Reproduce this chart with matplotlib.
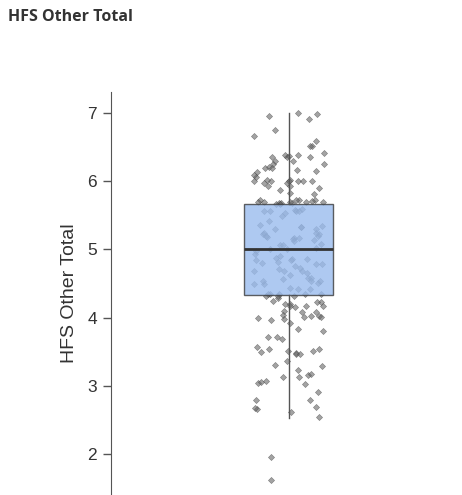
import numpy as np
import matplotlib
matplotlib.use("Agg")
import matplotlib.pyplot as plt

# box summary
q1 = 4.33
median = 5.0
q3 = 5.67
whisker_low = 2.53
whisker_high = 7.0

# individual scores (jittered dots), read top to bottom
scores = [
    7.0, 6.98, 6.91, 6.96, 6.75, 6.59, 6.66, 6.52, 6.52, 6.35, 6.30, 6.25,
    6.35, 6.38, 6.37, 6.30, 6.41, 6.35, 6.38, 6.25, 6.21, 6.19,
    6.16, 6.13, 6.06, 6.02, 5.97, 5.90, 6.0, 5.93, 6.0, 6.0, 6.09, 6.02,
    6.0, 5.93, 5.87, 6.0, 6.0, 5.97, 6.19, 6.15, 5.83, 5.81,
    5.72, 5.70, 5.72, 5.68, 5.70, 5.73, 5.68, 5.72, 5.70, 5.68, 5.67, 5.69,
    5.71, 5.66, 5.70,
    5.58, 5.56, 5.56, 5.59, 5.56, 5.53, 5.56, 5.49, 5.36, 5.34, 5.42, 5.33,
    5.30, 5.30, 5.33, 5.23, 5.14, 5.08, 5.20, 5.17, 5.24, 5.18, 5.23, 5.15,
    5.20, 5.24, 5.17, 5.12, 5.06, 5.06, 5.0, 4.98, 5.02, 5.0,
    4.86, 4.87, 4.86, 4.93, 4.90, 4.85, 4.80, 4.79, 4.73, 4.68, 4.84, 4.79,
    4.82, 4.76, 4.68, 4.71, 4.63, 4.58, 4.51, 4.50, 4.54, 4.68, 4.66, 4.58,
    4.54, 4.57, 4.54, 4.50, 4.42, 4.42, 4.43,
    4.34, 4.34, 4.34, 4.34, 4.32, 4.29, 4.35, 4.32, 4.32, 4.24, 4.23, 4.20,
    4.17, 4.20, 4.17, 4.23, 4.17, 4.16, 4.10, 4.08, 4.04, 4.02, 3.99, 3.98,
    3.92, 4.01, 3.96, 4.02, 4.08, 4.01, 3.83, 3.80, 3.72, 3.69, 3.72, 3.57,
    3.54, 3.54, 3.51, 3.50, 3.48, 3.51, 3.47, 3.47,
    3.30, 3.29, 3.36, 3.23, 3.13, 3.07, 3.04, 3.13, 3.16, 3.17, 3.03, 3.06,
    2.91, 2.79, 2.69, 2.62, 2.55, 2.66, 2.79, 2.67,
    1.95, 1.62,
]

label = "HFS Other Total"
text_color = "#333333"

fig = plt.figure(figsize=(4.62, 4.95), dpi=100)
ax = fig.add_axes([111 / 462, 0.0, 351 / 462, (495 - 92) / 495])

# horizontal jitter only (display offset, seeded so the file is repeatable)
rng = np.random.default_rng(7)
xs = rng.uniform(-0.2, 0.2, len(scores))
ax.scatter(xs, scores, marker="D", s=10, color="#666666", alpha=0.6,
           linewidths=0.4, edgecolors="#444444", zorder=1)

stats = [dict(q1=q1, med=median, q3=q3, whislo=whisker_low, whishi=whisker_high, fliers=[])]
ax.bxp(stats, positions=[0], widths=0.5, patch_artist=True, showcaps=False,
       boxprops=dict(facecolor="#9abcee", alpha=0.8, edgecolor="#3a3a3a", linewidth=1.0),
       medianprops=dict(color="#333333", linewidth=2.0),
       whiskerprops=dict(color="#555555", linewidth=1.0),
       zorder=2)

ax.set_xlim(-1.0, 0.972)
ax.set_ylim(1.399, 7.308)
ax.set_yticks([2, 3, 4, 5, 6, 7])
ax.set_xticks([])

for side in ["top", "right", "bottom"]:
    ax.spines[side].set_visible(False)
ax.spines["left"].set_color("#555555")
ax.tick_params(axis="y", length=6, width=1, color="#555555", labelcolor=text_color,
               labelsize=12.5, pad=4)
for t in ax.get_yticklabels():
    t.set_family("Liberation Sans")

ax.set_ylabel(label, family="Liberation Sans", fontsize=14, color=text_color, labelpad=7)

fig.text(8 / 462, 1 - 9 / 495, label, family="Open Sans", fontweight="bold",
         fontsize=11.5, color=text_color, ha="left", va="top")

fig.savefig("out.png", dpi=100)
